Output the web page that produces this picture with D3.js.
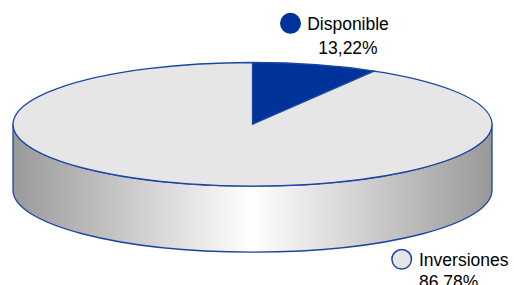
<!DOCTYPE html>
<html>
<head>
<meta charset="utf-8">
<script src="https://cdn.jsdelivr.net/npm/d3@7"></script>
<style>
  html, body { margin: 0; padding: 0; background: #fff; }
  svg { display: block; }
</style>
</head>
<body>
<div id="chart"></div>
<script>
// data
var categories = ['Disponible', 'Inversiones'];
var values = [13.22, 86.78];
var sliceColors = ['#003399', '#e6e6e6'];

// figure settings
var width = 514,
    height = 285;

var pie3d = {
    cx: 252.5,
    cy: 124.3,
    rx: 239.5,
    ry: 61.8,
    depth: 66,
    // the 3d perspective squeezes the back of the pie sideways
    squeeze: 0.538,
    stroke: '#1a46a3'
};

// where each label goes
var labelLayout = {
    'Disponible':  { mx: 290.5, my: 23.3, tx: 348, anchor: 'middle', y1: 30, y2: 54 },
    'Inversiones': { mx: 401.7, my: 259.3, tx: 419, anchor: 'start', y1: 266, y2: 288 }
};

var locale = d3.formatLocale({
    decimal: ',', thousands: '.', grouping: [3], currency: ['', ' €']
});
var fmtPct = locale.format('.2%');

var svg = d3.select('#chart')
    .append('svg')
    .attr('width', width)
    .attr('height', height);

var defs = svg.append('defs');
var grad = defs.append('linearGradient')
    .attr('id', 'side-grad')
    .attr('gradientUnits', 'userSpaceOnUse')
    .attr('x1', pie3d.cx - pie3d.rx).attr('y1', 0)
    .attr('x2', pie3d.cx + pie3d.rx).attr('y2', 0);
grad.append('stop').attr('offset', 0).attr('stop-color', '#999999');
grad.append('stop').attr('offset', 0.5).attr('stop-color', '#ffffff');
grad.append('stop').attr('offset', 1).attr('stop-color', '#999999');

var total = d3.sum(values);
var data = categories.map(function(c, i) {
    return { name: c, value: values[i], color: sliceColors[i] };
});

var pie = d3.pie()
    .sort(null)
    .value(function(d) { return d.value; });

var arcs = pie(data);

// true angle -> angle on the drawn ellipse
function warp(a) {
    return Math.atan2(pie3d.squeeze * Math.sin(a), Math.cos(a));
}
function unwrap(a, ref) {
    while (a < ref - 1e-9) a += 2 * Math.PI;
    return a;
}
arcs.forEach(function(d) {
    d.a0 = unwrap(warp(d.startAngle), 0);
    d.a1 = d.endAngle >= 2 * Math.PI - 1e-9 ? 2 * Math.PI : unwrap(warp(d.endAngle), d.a0);
});

function pt(a, dy) {
    return [pie3d.cx + pie3d.rx * Math.sin(a),
            pie3d.cy - pie3d.ry * Math.cos(a) + (dy || 0)];
}

function topPath(d) {
    var p0 = pt(d.a0), p1 = pt(d.a1);
    var large = (d.a1 - d.a0) > Math.PI ? 1 : 0;
    return 'M' + pie3d.cx + ',' + pie3d.cy +
        'L' + p0 + 'A' + pie3d.rx + ',' + pie3d.ry + ' 0 ' + large + ' 1 ' + p1 + 'Z';
}

// visible part of the side wall: angles between 90 and 270 degrees
function sidePath(d) {
    var lo = Math.max(d.a0, Math.PI / 2),
        hi = Math.min(d.a1, 3 * Math.PI / 2);
    if (hi <= lo) return null;
    var t0 = pt(lo), t1 = pt(hi),
        b0 = pt(lo, pie3d.depth), b1 = pt(hi, pie3d.depth);
    var r = pie3d.rx + ',' + pie3d.ry + ' 0 0 ';
    return 'M' + t0 + 'A' + r + '1 ' + t1 + 'L' + b1 + 'A' + r + '0 ' + b0 + 'Z';
}

var chart = svg.append('g');

// side walls
chart.append('g')
    .selectAll('path')
    .data(arcs.filter(function(d) { return sidePath(d) !== null; }))
    .enter()
    .append('path')
    .attr('d', sidePath)
    .attr('fill', 'url(#side-grad)')
    .attr('stroke', pie3d.stroke)
    .attr('stroke-width', 1.3)
    .attr('stroke-linejoin', 'round');

// top faces
chart.append('g')
    .selectAll('path')
    .data(arcs)
    .enter()
    .append('path')
    .attr('d', topPath)
    .attr('fill', function(d) { return d.data.color; })
    .attr('stroke', pie3d.stroke)
    .attr('stroke-width', 1.3)
    .attr('stroke-linejoin', 'round');

// labels
var labels = svg.append('g')
    .selectAll('g')
    .data(arcs)
    .enter()
    .append('g')
    .each(function(d) {
        var g = d3.select(this),
            L = labelLayout[d.data.name];
        g.append('circle')
            .attr('cx', L.mx)
            .attr('cy', L.my)
            .attr('r', d.data.color === '#003399' ? 10.5 : 9.8)
            .attr('fill', d.data.color)
            .attr('stroke', d.data.color === '#003399' ? 'none' : pie3d.stroke)
            .attr('stroke-width', 1.5);
        g.append('text')
            .attr('x', L.tx)
            .attr('y', L.y1)
            .attr('text-anchor', L.anchor)
            .attr('font-family', 'Liberation Sans, Arial, sans-serif')
            .attr('font-size', 17.5)
            .attr('fill', '#000')
            .text(d.data.name);
        g.append('text')
            .attr('x', L.tx)
            .attr('y', L.y2)
            .attr('text-anchor', L.anchor)
            .attr('font-family', 'Liberation Sans, Arial, sans-serif')
            .attr('font-size', 17.5)
            .attr('fill', '#000')
            .text(fmtPct(d.data.value / total));
    });
</script>
</body>
</html>
